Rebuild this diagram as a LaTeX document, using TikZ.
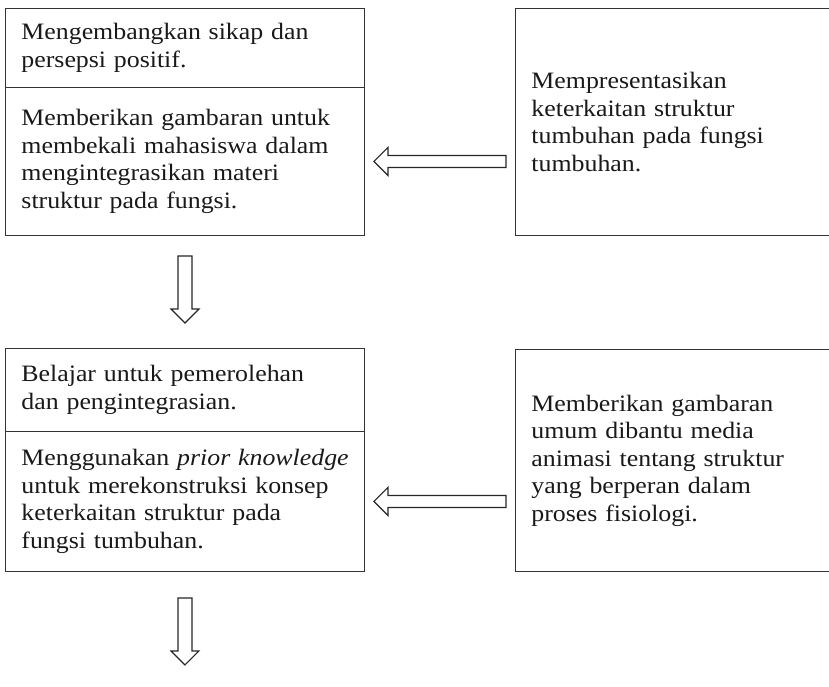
\documentclass[tikz,border=0pt]{standalone}
\usepackage{fontspec}
\setmainfont[FakeStretch=1.1]{Liberation Serif}
\usetikzlibrary{calc,positioning}

\tikzset{
  kotak/.style={draw=black!80, line width=0.9pt, anchor=north west, align=left,
    inner xsep=16pt, text=black!90, font=\fontsize{23.5}{27.5}\selectfont},
  panahkiri/.style={to path={
    ($(\tikztostart)+(0,-6)$) -- ($(\tikztotarget)+(14,-6)$)
      -- ($(\tikztotarget)+(14,-14)$) -- (\tikztotarget)
      -- ($(\tikztotarget)+(14,14)$) -- ($(\tikztotarget)+(14,6)$)
      -- ($(\tikztostart)+(0,6)$) -- cycle}},
  panahbawah/.style={to path={
    ($(\tikztostart)+(-7,0)$) -- ($(\tikztotarget)+(-7,-14)$)
      -- ($(\tikztotarget)+(-14,-14)$) -- (\tikztotarget)
      -- ($(\tikztotarget)+(14,-14)$) -- ($(\tikztotarget)+(7,-14)$)
      -- ($(\tikztostart)+(7,0)$) -- cycle}}
}

\begin{document}
\begin{tikzpicture}[x=1pt,y=-1pt]
  \useasboundingbox (0,0) rectangle (829,686);

  % baris atas
  \node[kotak, text width=327pt, minimum width=359pt, minimum height=79pt] (tujuanA) at (5,8)
    {Mengembangkan sikap dan\\persepsi positif.};
  \node[kotak, text width=327pt, minimum width=359pt, minimum height=148pt] (tujuanB) at (5,87)
    {Memberikan gambaran untuk\\membekali mahasiswa dalam\\mengintegrasikan materi\\struktur pada fungsi.};
  \node[kotak, text width=328pt, minimum width=360pt, minimum height=227pt] (sajianA) at (515,8)
    {Mempresentasikan\\keterkaitan struktur\\tumbuhan pada fungsi\\tumbuhan.};

  % baris bawah
  \node[kotak, text width=327pt, minimum width=359pt, minimum height=83pt] (tujuanC) at (5,348)
    {Belajar untuk pemerolehan\\dan pengintegrasian.};
  \node[kotak, text width=327pt, minimum width=359pt, minimum height=140pt] (tujuanD) at (5,431)
    {\mbox{Menggunakan \textit{prior knowledge}}\\untuk merekonstruksi konsep\\keterkaitan struktur pada\\fungsi tumbuhan.};
  \node[kotak, text width=328pt, minimum width=360pt, minimum height=222pt] (sajianB) at (515,349)
    {Memberikan gambaran\\umum dibantu media\\animasi tentang struktur\\yang berperan dalam\\proses fisiologi.};

  % panah
  \begin{scope}[draw=black!85, line width=1.2pt, line join=miter]
    \coordinate (kiriA) at ([xshift=-9pt]sajianA.west |- tujuanB.east);
    \coordinate (kiriB) at ([xshift=-9pt]sajianB.west |- tujuanD.east);
    \draw[panahkiri] (kiriA) to ([xshift=9pt]tujuanB.east);
    \draw[panahkiri] (kiriB) to ([xshift=9pt]tujuanD.east);

    \coordinate (akhir) at ([yshift=-93pt]tujuanD.south);
    \draw[panahbawah] ([yshift=-20pt]tujuanB.south) to ([yshift=25pt]tujuanC.north);
    \draw[panahbawah] ([yshift=-26pt]tujuanD.south) to (akhir);
  \end{scope}
\end{tikzpicture}
\end{document}
